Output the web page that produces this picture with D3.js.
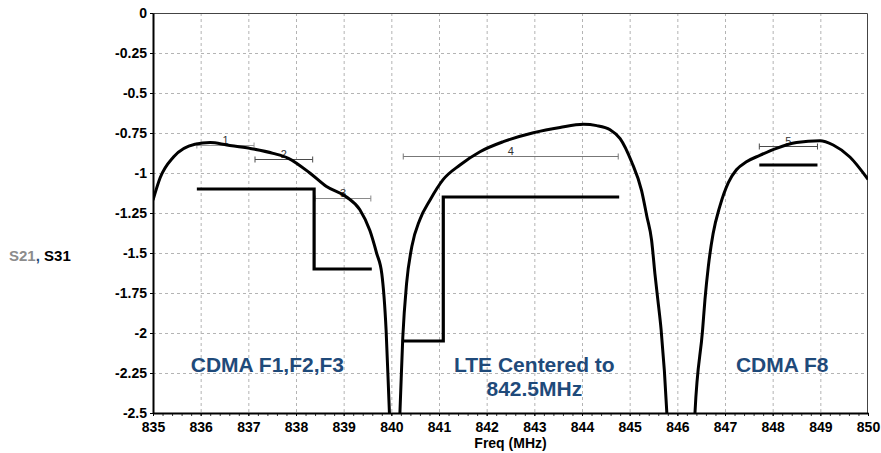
<!DOCTYPE html>
<html lang="en">

<head>
  <meta charset="utf-8">
  <title>S21, S31 filter response</title>
  <script src="https://cdnjs.cloudflare.com/ajax/libs/d3/7.8.5/d3.min.js"></script>
  <style type="text/css">
    body {
      margin: 0;
      background: #fff;
    }

    text {
      font-family: Arial, "Liberation Sans", sans-serif;
    }

    .grid line {
      stroke: #b4b4b4;
      stroke-width: 1;
      stroke-dasharray: 3, 3;
    }

    .trace {
      fill: none;
      stroke: #000;
      stroke-width: 3;
    }

    .mask {
      fill: none;
      stroke: #000;
      stroke-width: 3.2;
    }
  </style>
</head>

<body>
  <script>
    var w = 881;
    var h = 453;
    var margin = { top: 13, right: 13, bottom: 40, left: 153 };

    // Axis ticks
    var xTicks = [835, 836, 837, 838, 839, 840, 841, 842, 843, 844, 845, 846, 847, 848, 849, 850];
    var yTicks = [0, -0.25, -0.5, -0.75, -1, -1.25, -1.5, -1.75, -2, -2.25, -2.5];
    var yTickLabels = ['0', '-0.25', '-0.5', '-0.75', '-1', '-1.25', '-1.5', '-1.75', '-2', '-2.25', '-2.5'];

    // S31 trace, null marks a break where the curve drops off the chart
    var s31Freq = [
      835.0, 835.15, 835.43, 835.88, 836.2, 836.55, 837.03, 837.52, 837.84, 838.29,
      838.64, 839.06, 839.34, 839.55, 839.69, 839.80, 839.89, 839.96, 839.99,
      null,
      840.15, 840.18, 840.24, 840.32, 840.43, 840.60, 840.81, 841.09, 841.44, 841.86,
      842.35, 842.98, 843.54, 844.03, 844.31, 844.59, 844.80, 845.04, 845.25, 845.36,
      845.46, 845.53, 845.59, 845.66, 845.78, 845.81,
      null,
      846.34, 846.37, 846.53, 846.58, 846.65, 846.75, 846.89, 847.07, 847.24, 847.45,
      847.73, 848.08, 848.50, 848.99, 849.27, 849.62, 850.0
    ];
    var s31Loss = [
      -1.17, -1.03, -0.90, -0.82, -0.81, -0.825, -0.846, -0.877, -0.908, -1.0,
      -1.085, -1.15, -1.23, -1.36, -1.50, -1.63, -1.98, -2.5, -2.7,
      null,
      -2.7, -2.5, -2.03, -1.69, -1.46, -1.29, -1.17, -1.04, -0.95, -0.867,
      -0.804, -0.748, -0.715, -0.696, -0.704, -0.73, -0.785, -0.93, -1.11, -1.27,
      -1.42, -1.63, -1.79, -1.98, -2.5, -2.7,
      null,
      -2.7, -2.5, -1.98, -1.79, -1.585, -1.38, -1.21, -1.06, -0.98, -0.93,
      -0.89, -0.846, -0.81, -0.798, -0.825, -0.90, -1.04
    ];

    // Spec masks (step lines)
    var maskF123Freq = [835.92, 838.38, 838.38, 839.59];
    var maskF123Loss = [-1.1, -1.1, -1.6, -1.6];
    var maskLteFreq = [840.22, 841.09, 841.09, 844.78];
    var maskLteLoss = [-2.05, -2.05, -1.15, -1.15];
    var maskF8Freq = [847.72, 848.94];
    var maskF8Loss = [-0.95, -0.95];

    // Numbered markers (horizontal bars)
    var markerIds = ['1', '2', '3', '4', '5'];
    var markerStart = [835.92, 837.14, 838.40, 840.25, 847.72];
    var markerEnd = [837.12, 838.35, 839.57, 844.76, 848.94];
    var markerLevel = [-0.825, -0.915, -1.154, -0.894, -0.83];
    var markerColor = ['#9a9a9a', '#4a4a4a', '#8a8a8a', '#777', '#4a4a4a'];

    // Band annotations
    var bandLabels = [['CDMA F1,F2,F3'], ['LTE Centered to', '842.5MHz'], ['CDMA F8']];
    var bandCenter = [837.4, 843.0, 848.2];

    var xScale = d3.scaleLinear().domain([835, 850]).range([0, 715]);
    var yScale = d3.scaleLinear().domain([0, -2.5]).range([0, 400]);

    var svg = d3.select('body')
      .append('svg')
      .attr('width', w)
      .attr('height', h);

    svg.append('defs').append('clipPath')
      .attr('id', 'plotclip')
      .append('rect')
      .attr('width', 715)
      .attr('height', 400);

    var g = svg.append('g')
      .attr('transform', 'translate(' + margin.left + ',' + margin.top + ')');

    // Grid
    var grid = g.append('g').attr('class', 'grid');
    grid.selectAll('.vg')
      .data(xTicks.slice(1, -1))
      .enter().append('line')
      .attr('x1', d => xScale(d) + 0.5).attr('x2', d => xScale(d) + 0.5)
      .attr('y1', 0).attr('y2', 400);
    grid.selectAll('.hg')
      .data(yTicks.slice(1, -1))
      .enter().append('line')
      .attr('x1', 0).attr('x2', 715)
      .attr('y1', d => yScale(d) + 0.5).attr('y2', d => yScale(d) + 0.5);

    // Frame top and right
    g.append('path')
      .attr('d', 'M0,0.5H714.5V400')
      .attr('fill', 'none')
      .attr('stroke', '#444')
      .attr('stroke-width', 1);

    // Minor ticks below the x axis
    var minorTicks = d3.range(835, 850.01, 0.2);
    g.append('g')
      .attr('transform', 'translate(0,400)')
      .call(d3.axisBottom(xScale).tickValues(minorTicks).tickSize(3).tickSizeOuter(0).tickFormat(''))
      .call(a => a.select('.domain').remove())
      .selectAll('line').attr('stroke', '#333');

    // X axis
    var xAxis = g.append('g')
      .attr('transform', 'translate(0,400)')
      .call(d3.axisBottom(xScale).tickValues(xTicks).tickSize(3).tickSizeOuter(0).tickPadding(6).tickFormat(d => String(d)));
    xAxis.select('.domain').attr('stroke-width', 2);
    xAxis.selectAll('text')
      .attr('font-family', 'Arial, "Liberation Sans", sans-serif')
      .attr('font-size', 14).attr('font-weight', 'bold').attr('fill', '#000');

    // Y axis
    var yAxis = g.append('g')
      .call(d3.axisLeft(yScale).tickValues(yTicks).tickSize(3).tickSizeOuter(0).tickPadding(3)
        .tickFormat((d, i) => yTickLabels[i]));
    yAxis.select('.domain').attr('stroke-width', 2);
    yAxis.selectAll('text')
      .attr('font-family', 'Arial, "Liberation Sans", sans-serif')
      .attr('font-size', 14).attr('font-weight', 'bold').attr('fill', '#000');

    // X axis title
    g.append('text')
      .attr('x', 357.5)
      .attr('y', 435)
      .attr('text-anchor', 'middle')
      .attr('font-size', 14)
      .attr('font-weight', 'bold')
      .text('Freq (MHz)');

    // Y axis title: S21, S31
    var yt = svg.append('text')
      .attr('x', 9)
      .attr('y', 261)
      .attr('font-size', 15)
      .attr('font-weight', 'bold');
    yt.append('tspan').attr('fill', '#8c8c8c').text('S21');
    yt.append('tspan').attr('fill', '#1f4a7a').text(', ');
    yt.append('tspan').attr('fill', '#000').text('S31');

    var plot = g.append('g').attr('clip-path', 'url(#plotclip)');

    // Band annotations
    bandLabels.forEach(function (lines, i) {
      var t = plot.append('text')
        .attr('x', xScale(bandCenter[i]))
        .attr('y', 359)
        .attr('text-anchor', 'middle')
        .attr('font-size', 21)
        .attr('font-weight', 'bold')
        .attr('fill', '#1f4a7a');
      lines.forEach(function (s, j) {
        t.append('tspan')
          .attr('x', xScale(bandCenter[i]))
          .attr('dy', j === 0 ? 0 : 24)
          .text(s);
      });
    });

    // Markers
    markerIds.forEach(function (id, i) {
      var mg = plot.append('g')
        .attr('stroke', markerColor[i])
        .attr('stroke-width', 1);
      var yy = Math.round(yScale(markerLevel[i])) + 0.5;
      mg.append('line')
        .attr('x1', xScale(markerStart[i])).attr('x2', xScale(markerEnd[i]))
        .attr('y1', yy).attr('y2', yy);
      [markerStart[i], markerEnd[i]].forEach(function (f) {
        mg.append('line')
          .attr('x1', xScale(f)).attr('x2', xScale(f))
          .attr('y1', yy - 3).attr('y2', yy + 3);
      });
      plot.append('text')
        .attr('x', xScale((markerStart[i] + markerEnd[i]) / 2))
        .attr('y', yy - 2)
        .attr('text-anchor', 'middle')
        .attr('font-size', 11)
        .attr('fill', '#333')
        .text(id);
    });

    // Masks
    var stepLine = d3.line()
      .x(d => xScale(d[0]))
      .y(d => yScale(d[1]));
    [[maskF123Freq, maskF123Loss], [maskLteFreq, maskLteLoss], [maskF8Freq, maskF8Loss]]
      .forEach(function (m) {
        plot.append('path')
          .datum(d3.zip(m[0], m[1]))
          .attr('class', 'mask')
          .attr('d', stepLine);
      });

    // S31 trace
    var trace = d3.line()
      .defined(d => d[0] !== null)
      .x(d => xScale(d[0]))
      .y(d => yScale(d[1]))
      .curve(d3.curveMonotoneX);
    plot.append('path')
      .datum(d3.zip(s31Freq, s31Loss))
      .attr('class', 'trace')
      .attr('d', trace);
  </script>
</body>

</html>
